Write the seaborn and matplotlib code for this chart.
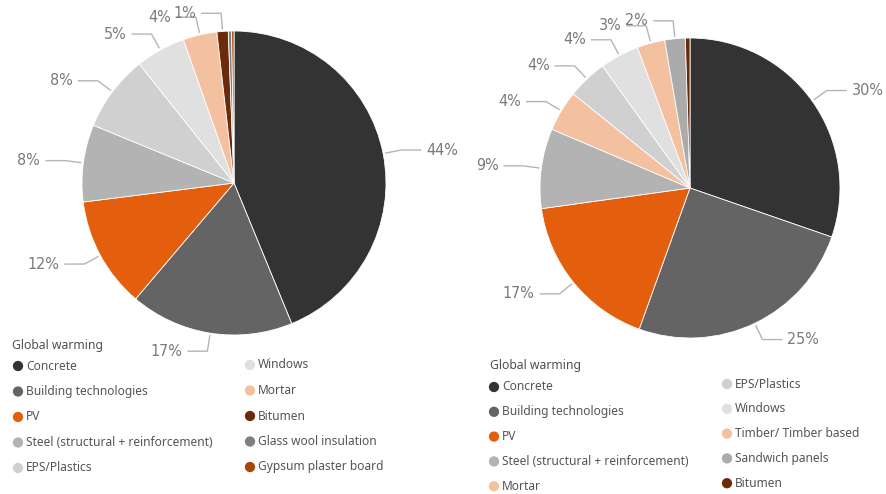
import numpy as np
import matplotlib
matplotlib.use("Agg")
import matplotlib.pyplot as plt
import seaborn as sns

sns.set_theme(style="white")
plt.rcParams['font.family'] = ['Noto Sans', 'DejaVu Sans']

# ---------------- data ----------------
title = "Global warming"

left_categories = ["Concrete", "Building technologies", "PV",
                   "Steel (structural + reinforcement)", "EPS/Plastics",
                   "Windows", "Mortar", "Bitumen", "Glass wool insulation",
                   "Gypsum plaster board"]
left_values = [43.8, 17.4, 11.8, 8.2, 8.1, 5.3, 3.6, 1.2, 0.35, 0.25]
left_colors = ["#333333", "#646464", "#E35F0E", "#B3B3B3", "#D0D0D0",
               "#E0E0E0", "#F3C0A0", "#6B2A0A", "#7F7F7F", "#A84608"]

right_categories = ["Concrete", "Building technologies", "PV",
                    "Steel (structural + reinforcement)", "Mortar",
                    "EPS/Plastics", "Windows", "Timber/ Timber based",
                    "Sandwich panels", "Bitumen"]
right_values = [30.3, 25.2, 17.3, 8.6, 4.4, 4.3, 4.2, 3.0, 2.2, 0.5]
right_colors = ["#333333", "#646464", "#E35F0E", "#B3B3B3", "#F3C0A0",
                "#D0D0D0", "#E0E0E0", "#F3C0A0", "#ABABAB", "#6B2A0A"]

W, H = 887, 494
fig = plt.figure(figsize=(W / 100, H / 100), dpi=100)
ax = fig.add_axes([0, 0, 1, 1])

label_color = "#7A7A7A"
line_color = "#B5B5B5"
text_color = "#555555"


def draw_pie(values, colors, cx, cy, r):
    wedges, _ = ax.pie(values, colors=colors, startangle=90, counterclock=False,
                       center=(cx, cy), radius=r,
                       wedgeprops=dict(edgecolor="white", linewidth=0.6))
    for w, v in zip(wedges, values):
        if v < 0.95:
            continue
        ang = np.deg2rad((w.theta1 + w.theta2) / 2.0)
        dx, dy = np.cos(ang), np.sin(ang)
        p0 = (cx + dx * (r + 2), cy + dy * (r + 2))
        p1 = (cx + dx * r * 1.12, cy + dy * r * 1.12)
        side = 1 if dx >= 0 else -1
        p2 = (p1[0] + side * 20, p1[1])
        ax.plot([p0[0], p1[0], p2[0]], [p0[1], p1[1], p2[1]],
                color=line_color, lw=1.0, solid_capstyle="butt")
        ax.text(p2[0] + side * 5, p2[1], f"{v:.0f}%",
                ha="left" if side > 0 else "right", va="center",
                fontsize=11.5, color=label_color,
                family=["DejaVu Sans"], fontstretch="condensed")


def draw_legend(cats, colors, tx, ty, c1x, c2x, y1, y2, dy):
    ax.text(tx, H - ty, title, fontsize=8.8, color="#505050",
            fontweight="bold", ha="left", va="center")
    for i, (c, col) in enumerate(zip(cats, colors)):
        row, colidx = i % 5, i // 5
        x = c1x if colidx == 0 else c2x
        y = (y1 if colidx == 0 else y2) + row * dy
        ax.scatter([x], [H - y], s=55, color=col, edgecolors="none", zorder=3)
        ax.text(x + 8, H - y, c, fontsize=8.6, color=text_color,
                ha="left", va="center")


draw_pie(left_values, left_colors, 234, H - 183, 152)
draw_pie(right_values, right_colors, 690, H - 188, 150)

draw_legend(left_categories, left_colors, 12, 345, 18, 250, 366, 365, 25.5)
draw_legend(right_categories, right_colors, 490, 366, 494, 727, 387, 384, 24.8)

ax.set_xlim(0, W)
ax.set_ylim(0, H)
ax.set_aspect("equal")
ax.axis("off")

fig.savefig("out.png", dpi=100, facecolor="white")
